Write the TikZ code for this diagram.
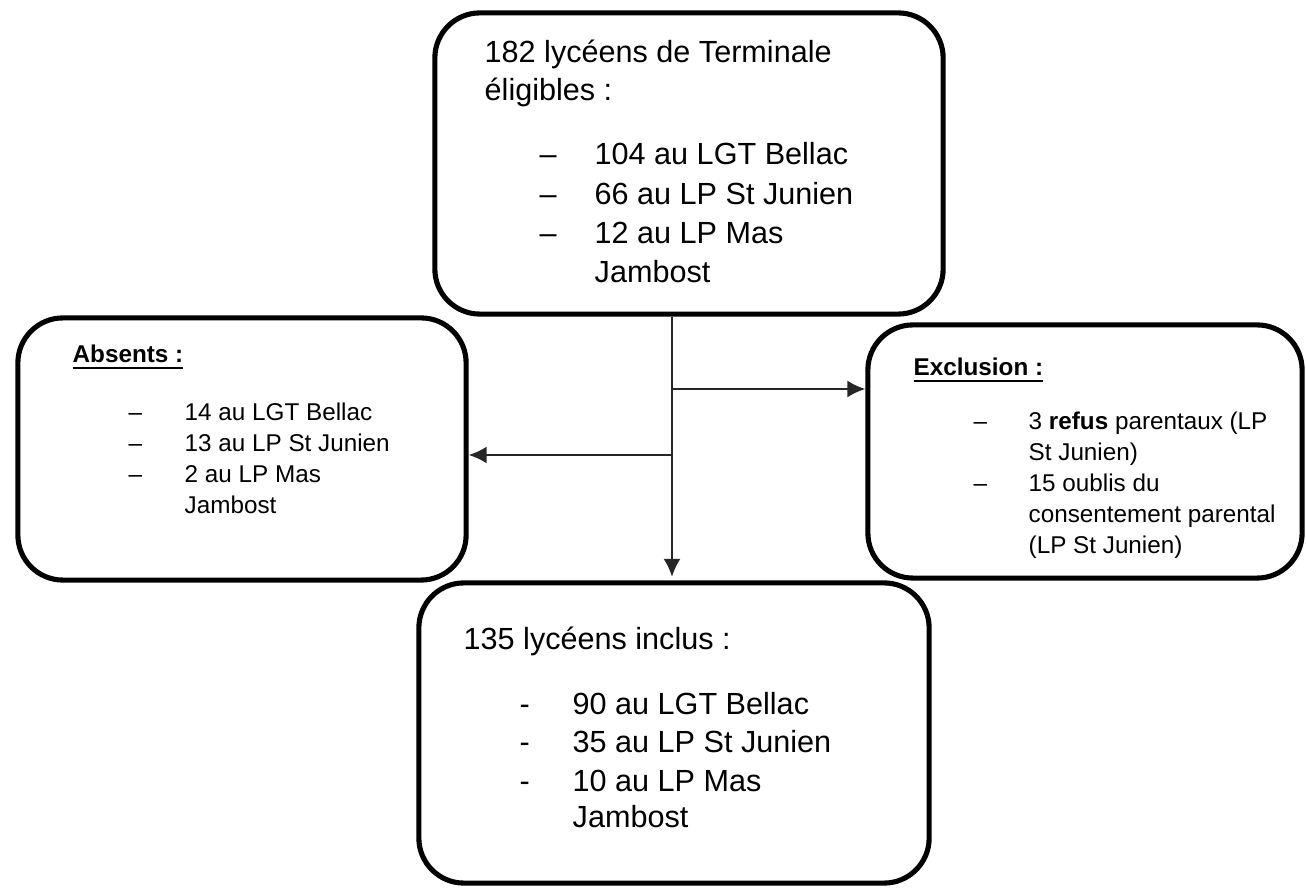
\documentclass[tikz,border=0pt]{standalone}
\usepackage{fontspec}
\setmainfont{Liberation Sans}
\usepackage{tikz}
\usetikzlibrary{arrows.meta}
\tikzset{
  box/.style={draw, line width=1.45pt, rounded corners=0.45cm, inner sep=0pt},
  big/.style={anchor=base west, inner sep=0pt, font=\fontsize{8.7}{10.4}\selectfont},
  small/.style={anchor=base west, inner sep=0pt, font=\fontsize{6.9}{8.3}\selectfont},
  link/.style={draw=black!85, line width=0.6pt, -{Latex[length=0.18cm,width=0.17cm]}}
}
\begin{document}
\begin{tikzpicture}[x=0.01cm, y=-0.01cm]
\useasboundingbox (0,0) rectangle (1306,889);

% les quatre cadres
\node [box, minimum width=5.08cm, minimum height=3.01cm] (eligibles) at (689,163.5) {};
\node [box, minimum width=4.48cm, minimum height=2.62cm] (absents) at (242,449) {};
\node [box, minimum width=4.34cm, minimum height=2.53cm] (exclusion) at (1085,451.5) {};
\node [box, minimum width=5.10cm, minimum height=3.00cm] (inclus) at (674,733) {};

% eligibles
\node [big] (elig-t1) at (484,63) {182 lycéens de Terminale};
\node [big] (elig-t2) at (484,101) {éligibles :};
\foreach \n/\y/\t in {1/165/104 au LGT Bellac, 2/205/66 au LP St Junien, 3/244/12 au LP Mas} {\node [big] (elig-d\n) at (539,\y) {–}; \node [big] (elig-i\n) at (594,\y) {\t};}
\node [big] (elig-i4) at (594,283) {Jambost};

% absents
\node [small] (abs-h) at (72,363) {\underline{\textbf{Absents :}}};
\foreach \n/\y/\t in {1/421/14 au LGT Bellac, 2/452/13 au LP St Junien, 3/483/2 au LP Mas} {\node [small] (abs-d\n) at (128,\y) {–}; \node [small] (abs-i\n) at (184,\y) {\t};}
\node [small] (abs-i4) at (184,514) {Jambost};

% exclusion
\node [small] (excl-h) at (913,376) {\underline{\textbf{Exclusion :}}};
\foreach \n/\y in {1/430, 2/492} {\node [small] (excl-d\n) at (973,\y) {–};}
\foreach \n/\y/\t in {1/430/3 \textbf{refus} parentaux (LP, 2/461/St Junien), 3/492/15 oublis du, 4/523/consentement parental, 5/554/(LP St Junien)} {\node [small] (excl-i\n) at (1028,\y) {\t};}

% inclus
\node [big] (incl-t1) at (463,650) {135 lycéens inclus :};
\foreach \n/\y/\t in {1/715/90 au LGT Bellac, 2/753/35 au LP St Junien, 3/792/10 au LP Mas} {\node [big] (incl-d\n) at (519,\y) {-}; \node [big] (incl-i\n) at (572,\y) {\t};}
\node [big] (incl-i4) at (572,828) {Jambost};

% fleches
\coordinate (branchR) at (672,389);
\coordinate (branchL) at (672,455);
\draw [link, shorten >=1pt] (eligibles.south -| branchR) -- (branchR |- inclus.north);
\draw [link] (branchR) -- (branchR -| exclusion.west);
\draw [link] (branchL) -- (branchL -| absents.east);

\end{tikzpicture}
\end{document}
